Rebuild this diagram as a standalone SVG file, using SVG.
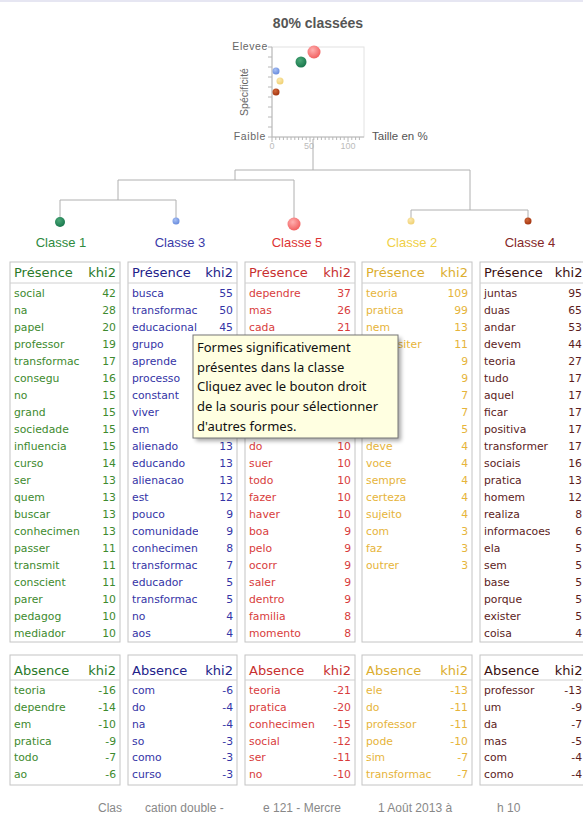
<svg xmlns="http://www.w3.org/2000/svg" width="583" height="814" viewBox="0 0 583 814">
<style>
.w{font-family:"DejaVu Sans","Liberation Sans",sans-serif;font-size:10.8px}
.n{font-family:"DejaVu Sans","Liberation Sans",sans-serif;font-size:10.8px;text-anchor:end}
.h{font-family:"DejaVu Sans","Liberation Sans",sans-serif;font-size:13px}
.he{font-family:"DejaVu Sans","Liberation Sans",sans-serif;font-size:13px;text-anchor:end}
.box{fill:#fff;stroke:#c4c4c4;stroke-width:1}
.sep{stroke:#d0d0d0;stroke-width:1}
.lbl{font-family:"Liberation Sans",Arial,sans-serif;font-size:13px;text-anchor:middle}
.br{fill:none;stroke:#b0b0b0;stroke-width:1}
.ax{stroke:#b8b8b8;stroke-width:1}
.tk{font-family:"Liberation Sans",Arial,sans-serif;font-size:9px;fill:#bbb;text-anchor:middle}
.al{font-family:"Liberation Sans",Arial,sans-serif;font-size:10.5px;fill:#666}
.foot{font-family:"Liberation Sans",Arial,sans-serif;font-size:12px;fill:#888}
.tip{font-family:"Noto Sans","Open Sans",sans-serif;font-size:13px;fill:#111}
.g1{fill:#3d8a2e}.g3{fill:#3434a6}.g5{fill:#d83c3c}.g2{fill:#e6b43a}.g4{fill:#5c1c1c}
.h1{fill:#2a7a2a}.h3{fill:#22228a}.h5{fill:#c83030}.h2{fill:#dcae30}.h4{fill:#3a1010}
</style>
<defs>
<clipPath id="wc"><rect x="0" y="250" width="70" height="560"/></clipPath>
<radialGradient id="gr" cx="0.4" cy="0.35" r="0.7"><stop offset="0" stop-color="#ffb0b0"/><stop offset="1" stop-color="#f05a5a"/></radialGradient>
<radialGradient id="gg" cx="0.4" cy="0.35" r="0.7"><stop offset="0" stop-color="#4aa878"/><stop offset="1" stop-color="#17744a"/></radialGradient>
<radialGradient id="gb" cx="0.4" cy="0.35" r="0.7"><stop offset="0" stop-color="#a8c0f4"/><stop offset="1" stop-color="#6488dc"/></radialGradient>
<radialGradient id="gy" cx="0.4" cy="0.35" r="0.7"><stop offset="0" stop-color="#fbe8b0"/><stop offset="1" stop-color="#efcf6e"/></radialGradient>
<radialGradient id="gd" cx="0.4" cy="0.35" r="0.7"><stop offset="0" stop-color="#d0683a"/><stop offset="1" stop-color="#a0300c"/></radialGradient>
<filter id="sh" x="-10%" y="-10%" width="130%" height="130%"><feGaussianBlur stdDeviation="2"/></filter>
</defs>
<rect x="0" y="0" width="583" height="814" fill="#fff"/>
<rect x="0" y="0" width="583" height="2" fill="#e6e6f2"/>

<g id="chart">
<text x="318" y="28" text-anchor="middle" font-family="Liberation Sans,Arial,sans-serif" font-size="14px" font-weight="bold" fill="#555">80% classées</text>
<rect x="272" y="47" width="92" height="90" fill="none" stroke="#e2e2e2"/>
<line class="ax" x1="272" y1="47" x2="272" y2="137"/>
<line class="ax" x1="272" y1="137" x2="364" y2="137"/>
<path class="ax" d="M268 47H272M268 57H272M268 67H272M268 77H272M268 87H272M268 97H272M268 107H272M268 117H272M268 127H272M268 137H272"/>
<path class="ax" d="M275.8 137v3M279.6 137v3M283.4 137v3M287.2 137v3M291 137v3M294.8 137v3M298.6 137v3M302.4 137v3M306.2 137v3M313.8 137v3M317.6 137v3M321.4 137v3M325.2 137v3M329 137v3M332.8 137v3M336.6 137v3M340.4 137v3M344.2 137v3M351.8 137v3M355.6 137v3M359.4 137v3M272 137v5M310 137v5M348 137v5"/>
<text class="al" x="268" y="50" text-anchor="end" letter-spacing="0.6">Elevee</text>
<text class="al" x="266" y="140" text-anchor="end" letter-spacing="0.6">Faible</text>
<text class="al" transform="translate(248,92) rotate(-90)" text-anchor="middle" font-size="11px" fill="#777">Spécificité</text>
<text class="tk" x="272" y="149">0</text>
<text class="tk" x="309" y="149">50</text>
<text class="tk" x="348" y="149">100</text>
<text x="372" y="140" font-family="Liberation Sans,Arial,sans-serif" font-size="11.5px" fill="#555">Taille en %</text>
<circle cx="314" cy="52" r="6.5" fill="url(#gr)"/>
<circle cx="301" cy="62" r="5.5" fill="url(#gg)"/>
<circle cx="276" cy="71" r="3.5" fill="url(#gb)"/>
<circle cx="280" cy="81" r="3.5" fill="url(#gy)"/>
<circle cx="276" cy="92" r="3.5" fill="url(#gd)"/>
</g>

<g id="connectors">
<path class="br" d="M313 139V170M235 170H470M235 170V180M118 180H294M118 180V200M60 200H176M60 200V218M176 200V218M294 180V218M470 170V210M411 210H528M411 210V218M528 210V218"/>
</g>

<g id="classe1">
<circle cx="60" cy="222" r="5" fill="url(#gg)"/>
<text class="lbl" x="61" y="247" fill="#2e8a40">Classe 1</text>
<g transform="translate(10,0)">
<rect class="box" x="0" y="262" width="110" height="380"/>
<line class="sep" x1="0" y1="283" x2="110" y2="283"/>
<text class="h h1" x="4" y="277">Présence</text><text class="he h1" x="106" y="277">khi2</text>
<g class="g1" clip-path="url(#wc)">
<text class="w" x="4" y="297">social</text><text class="w" x="4" y="314">na</text><text class="w" x="4" y="331">papel</text><text class="w" x="4" y="348">professor</text><text class="w" x="4" y="365">transformac</text><text class="w" x="4" y="382">consegu</text><text class="w" x="4" y="399">no</text><text class="w" x="4" y="416">grand</text><text class="w" x="4" y="433">sociedade</text><text class="w" x="4" y="450">influencia</text><text class="w" x="4" y="467">curso</text><text class="w" x="4" y="484">ser</text><text class="w" x="4" y="501">quem</text><text class="w" x="4" y="518">buscar</text><text class="w" x="4" y="535">conhecimen</text><text class="w" x="4" y="552">passer</text><text class="w" x="4" y="569">transmit</text><text class="w" x="4" y="586">conscient</text><text class="w" x="4" y="603">parer</text><text class="w" x="4" y="620">pedagog</text><text class="w" x="4" y="637">mediador</text>
</g>
<g class="g1">
<text class="n" x="106" y="297">42</text><text class="n" x="106" y="314">28</text><text class="n" x="106" y="331">20</text><text class="n" x="106" y="348">19</text><text class="n" x="106" y="365">17</text><text class="n" x="106" y="382">16</text><text class="n" x="106" y="399">15</text><text class="n" x="106" y="416">15</text><text class="n" x="106" y="433">15</text><text class="n" x="106" y="450">15</text><text class="n" x="106" y="467">14</text><text class="n" x="106" y="484">13</text><text class="n" x="106" y="501">13</text><text class="n" x="106" y="518">13</text><text class="n" x="106" y="535">13</text><text class="n" x="106" y="552">11</text><text class="n" x="106" y="569">11</text><text class="n" x="106" y="586">11</text><text class="n" x="106" y="603">10</text><text class="n" x="106" y="620">10</text><text class="n" x="106" y="637">10</text>
</g>
<rect class="box" x="0" y="655" width="110" height="130"/>
<line class="sep" x1="0" y1="680" x2="110" y2="680"/>
<text class="h h1" x="4" y="675">Absence</text><text class="he h1" x="106" y="675">khi2</text>
<g class="g1">
<text class="w" x="4" y="694">teoria</text><text class="n" x="106" y="694">-16</text>
<text class="w" x="4" y="711">dependre</text><text class="n" x="106" y="711">-14</text>
<text class="w" x="4" y="728">em</text><text class="n" x="106" y="728">-10</text>
<text class="w" x="4" y="745">pratica</text><text class="n" x="106" y="745">-9</text>
<text class="w" x="4" y="761">todo</text><text class="n" x="106" y="761">-7</text>
<text class="w" x="4" y="778">ao</text><text class="n" x="106" y="778">-6</text>
</g>
</g>
</g>

<g id="classe3">
<circle cx="176" cy="221" r="3.5" fill="url(#gb)"/>
<text class="lbl" x="180" y="247" fill="#3a3aa8">Classe 3</text>
<g transform="translate(128,0)">
<rect class="box" x="0" y="262" width="109" height="380"/>
<line class="sep" x1="0" y1="283" x2="109" y2="283"/>
<text class="h h3" x="4" y="277">Présence</text><text class="he h3" x="105" y="277">khi2</text>
<g class="g3" clip-path="url(#wc)">
<text class="w" x="4" y="297">busca</text><text class="w" x="4" y="314">transformac</text><text class="w" x="4" y="331">educacional</text><text class="w" x="4" y="348">grupo</text><text class="w" x="4" y="365">aprende</text><text class="w" x="4" y="382">processo</text><text class="w" x="4" y="399">constant</text><text class="w" x="4" y="416">viver</text><text class="w" x="4" y="433">em</text><text class="w" x="4" y="450">alienado</text><text class="w" x="4" y="467">educando</text><text class="w" x="4" y="484">alienacao</text><text class="w" x="4" y="501">est</text><text class="w" x="4" y="518">pouco</text><text class="w" x="4" y="535">comunidade</text><text class="w" x="4" y="552">conhecimen</text><text class="w" x="4" y="569">transformac</text><text class="w" x="4" y="586">educador</text><text class="w" x="4" y="603">transformac</text><text class="w" x="4" y="620">no</text><text class="w" x="4" y="637">aos</text>
</g>
<g class="g3">
<text class="n" x="105" y="297">55</text><text class="n" x="105" y="314">50</text><text class="n" x="105" y="331">45</text><text class="n" x="105" y="450">13</text><text class="n" x="105" y="467">13</text><text class="n" x="105" y="484">13</text><text class="n" x="105" y="501">12</text><text class="n" x="105" y="518">9</text><text class="n" x="105" y="535">9</text><text class="n" x="105" y="552">8</text><text class="n" x="105" y="569">7</text><text class="n" x="105" y="586">5</text><text class="n" x="105" y="603">5</text><text class="n" x="105" y="620">4</text><text class="n" x="105" y="637">4</text>
</g>
<rect class="box" x="0" y="655" width="109" height="130"/>
<line class="sep" x1="0" y1="680" x2="109" y2="680"/>
<text class="h h3" x="4" y="675">Absence</text><text class="he h3" x="105" y="675">khi2</text>
<g class="g3">
<text class="w" x="4" y="694">com</text><text class="n" x="105" y="694">-6</text>
<text class="w" x="4" y="711">do</text><text class="n" x="105" y="711">-4</text>
<text class="w" x="4" y="728">na</text><text class="n" x="105" y="728">-4</text>
<text class="w" x="4" y="745">so</text><text class="n" x="105" y="745">-3</text>
<text class="w" x="4" y="761">como</text><text class="n" x="105" y="761">-3</text>
<text class="w" x="4" y="778">curso</text><text class="n" x="105" y="778">-3</text>
</g>
</g>
</g>

<g id="classe5">
<circle cx="294" cy="224" r="6.5" fill="url(#gr)"/>
<text class="lbl" x="297" y="247" fill="#dd3434">Classe 5</text>
<g transform="translate(245,0)">
<rect class="box" x="0" y="262" width="110" height="380"/>
<line class="sep" x1="0" y1="283" x2="110" y2="283"/>
<text class="h h5" x="4" y="277">Présence</text><text class="he h5" x="106" y="277">khi2</text>
<g class="g5" clip-path="url(#wc)">
<text class="w" x="4" y="297">dependre</text><text class="w" x="4" y="314">mas</text><text class="w" x="4" y="331">cada</text><text class="w" x="4" y="450">do</text><text class="w" x="4" y="467">suer</text><text class="w" x="4" y="484">todo</text><text class="w" x="4" y="501">fazer</text><text class="w" x="4" y="518">haver</text><text class="w" x="4" y="535">boa</text><text class="w" x="4" y="552">pelo</text><text class="w" x="4" y="569">ocorr</text><text class="w" x="4" y="586">saler</text><text class="w" x="4" y="603">dentro</text><text class="w" x="4" y="620">familia</text><text class="w" x="4" y="637">momento</text>
</g>
<g class="g5">
<text class="n" x="106" y="297">37</text><text class="n" x="106" y="314">26</text><text class="n" x="106" y="331">21</text><text class="n" x="106" y="450">10</text><text class="n" x="106" y="467">10</text><text class="n" x="106" y="484">10</text><text class="n" x="106" y="501">10</text><text class="n" x="106" y="518">10</text><text class="n" x="106" y="535">9</text><text class="n" x="106" y="552">9</text><text class="n" x="106" y="569">9</text><text class="n" x="106" y="586">9</text><text class="n" x="106" y="603">9</text><text class="n" x="106" y="620">8</text><text class="n" x="106" y="637">8</text>
</g>
<rect class="box" x="0" y="655" width="110" height="130"/>
<line class="sep" x1="0" y1="680" x2="110" y2="680"/>
<text class="h h5" x="4" y="675">Absence</text><text class="he h5" x="106" y="675">khi2</text>
<g class="g5" clip-path="url(#wc)">
<text class="w" x="4" y="694">teoria</text><text class="w" x="4" y="711">pratica</text><text class="w" x="4" y="728">conhecimen</text><text class="w" x="4" y="745">social</text><text class="w" x="4" y="761">ser</text><text class="w" x="4" y="778">no</text>
</g>
<g class="g5">
<text class="n" x="106" y="694">-21</text><text class="n" x="106" y="711">-20</text><text class="n" x="106" y="728">-15</text><text class="n" x="106" y="745">-12</text><text class="n" x="106" y="761">-11</text><text class="n" x="106" y="778">-10</text>
</g>
</g>
</g>

<g id="classe2">
<circle cx="411" cy="221" r="3.5" fill="url(#gy)"/>
<text class="lbl" x="412" y="247" fill="#f0d046">Classe 2</text>
<g transform="translate(362,0)">
<rect class="box" x="0" y="262" width="110" height="380"/>
<line class="sep" x1="0" y1="283" x2="110" y2="283"/>
<text class="h h2" x="4" y="277">Présence</text><text class="he h2" x="106" y="277">khi2</text>
<g class="g2" clip-path="url(#wc)">
<text class="w" x="4" y="297">teoria</text><text class="w" x="4" y="314">pratica</text><text class="w" x="4" y="331">nem</text><text class="w" x="4" y="348">necessiter</text><text class="w" x="4" y="450">deve</text><text class="w" x="4" y="467">voce</text><text class="w" x="4" y="484">sempre</text><text class="w" x="4" y="501">certeza</text><text class="w" x="4" y="518">sujeito</text><text class="w" x="4" y="535">com</text><text class="w" x="4" y="552">faz</text><text class="w" x="4" y="569">outrer</text>
</g>
<g class="g2">
<text class="n" x="106" y="297">109</text><text class="n" x="106" y="314">99</text><text class="n" x="106" y="331">13</text><text class="n" x="106" y="348">11</text><text class="n" x="106" y="365">9</text><text class="n" x="106" y="382">9</text><text class="n" x="106" y="399">7</text><text class="n" x="106" y="416">7</text><text class="n" x="106" y="433">5</text><text class="n" x="106" y="450">4</text><text class="n" x="106" y="467">4</text><text class="n" x="106" y="484">4</text><text class="n" x="106" y="501">4</text><text class="n" x="106" y="518">4</text><text class="n" x="106" y="535">3</text><text class="n" x="106" y="552">3</text><text class="n" x="106" y="569">3</text>
</g>
<rect class="box" x="0" y="655" width="110" height="130"/>
<line class="sep" x1="0" y1="680" x2="110" y2="680"/>
<text class="h h2" x="4" y="675">Absence</text><text class="he h2" x="106" y="675">khi2</text>
<g class="g2" clip-path="url(#wc)">
<text class="w" x="4" y="694">ele</text><text class="w" x="4" y="711">do</text><text class="w" x="4" y="728">professor</text><text class="w" x="4" y="745">pode</text><text class="w" x="4" y="761">sim</text><text class="w" x="4" y="778">transformac</text>
</g>
<g class="g2">
<text class="n" x="106" y="694">-13</text><text class="n" x="106" y="711">-11</text><text class="n" x="106" y="728">-11</text><text class="n" x="106" y="745">-10</text><text class="n" x="106" y="761">-7</text><text class="n" x="106" y="778">-7</text>
</g>
</g>
</g>

<g id="classe4">
<circle cx="528" cy="221" r="3.5" fill="url(#gd)"/>
<text class="lbl" x="530" y="247" fill="#842828">Classe 4</text>
<g transform="translate(480,0)">
<rect class="box" x="0" y="262" width="110" height="380"/>
<line class="sep" x1="0" y1="283" x2="110" y2="283"/>
<text class="h h4" x="4" y="277">Présence</text><text class="he h4" x="102.5" y="277">khi2</text>
<g class="g4" clip-path="url(#wc)">
<text class="w" x="4" y="297">juntas</text><text class="w" x="4" y="314">duas</text><text class="w" x="4" y="331">andar</text><text class="w" x="4" y="348">devem</text><text class="w" x="4" y="365">teoria</text><text class="w" x="4" y="382">tudo</text><text class="w" x="4" y="399">aquel</text><text class="w" x="4" y="416">ficar</text><text class="w" x="4" y="433">positiva</text><text class="w" x="4" y="450">transformer</text><text class="w" x="4" y="467">sociais</text><text class="w" x="4" y="484">pratica</text><text class="w" x="4" y="501">homem</text><text class="w" x="4" y="518">realiza</text><text class="w" x="4" y="535">informacoes</text><text class="w" x="4" y="552">ela</text><text class="w" x="4" y="569">sem</text><text class="w" x="4" y="586">base</text><text class="w" x="4" y="603">porque</text><text class="w" x="4" y="620">exister</text><text class="w" x="4" y="637">coisa</text>
</g>
<g class="g4">
<text class="n" x="102" y="297">95</text><text class="n" x="102" y="314">65</text><text class="n" x="102" y="331">53</text><text class="n" x="102" y="348">44</text><text class="n" x="102" y="365">27</text><text class="n" x="102" y="382">17</text><text class="n" x="102" y="399">17</text><text class="n" x="102" y="416">17</text><text class="n" x="102" y="433">17</text><text class="n" x="102" y="450">17</text><text class="n" x="102" y="467">16</text><text class="n" x="102" y="484">13</text><text class="n" x="102" y="501">12</text><text class="n" x="102" y="518">8</text><text class="n" x="102" y="535">6</text><text class="n" x="102" y="552">5</text><text class="n" x="102" y="569">5</text><text class="n" x="102" y="586">5</text><text class="n" x="102" y="603">5</text><text class="n" x="102" y="620">5</text><text class="n" x="102" y="637">4</text>
</g>
<rect class="box" x="0" y="655" width="110" height="130"/>
<line class="sep" x1="0" y1="680" x2="110" y2="680"/>
<text class="h h4" x="4" y="675">Absence</text><text class="he h4" x="102.5" y="675">khi2</text>
<g class="g4">
<text class="w" x="4" y="694">professor</text><text class="n" x="102" y="694">-13</text>
<text class="w" x="4" y="711">um</text><text class="n" x="102" y="711">-9</text>
<text class="w" x="4" y="728">da</text><text class="n" x="102" y="728">-7</text>
<text class="w" x="4" y="745">mas</text><text class="n" x="102" y="745">-5</text>
<text class="w" x="4" y="761">com</text><text class="n" x="102" y="761">-4</text>
<text class="w" x="4" y="778">como</text><text class="n" x="102" y="778">-4</text>
</g>
</g>
</g>

<g id="tooltip">
<rect x="196" y="338" width="205" height="103" fill="#000" opacity="0.35" filter="url(#sh)"/>
<rect x="193" y="335" width="205" height="103" fill="#ffffe1" stroke="#767676"/>
<text class="tip" x="197" y="352">Formes significativement</text>
<text class="tip" x="197" y="372">présentes dans la classe</text>
<text class="tip" x="197" y="391">Cliquez avec le bouton droit</text>
<text class="tip" x="197" y="411">de la souris pour sélectionner</text>
<text class="tip" x="197" y="431">d'autres formes.</text>
</g>

<g id="footer">
<text class="foot" x="98" y="812">Clas</text>
<text class="foot" x="145" y="812">cation double -</text>
<text class="foot" x="263" y="812">e 121 - Mercre</text>
<text class="foot" x="378" y="812">1 Août 2013 à</text>
<text class="foot" x="497" y="812">h 10</text>
</g>
</svg>
